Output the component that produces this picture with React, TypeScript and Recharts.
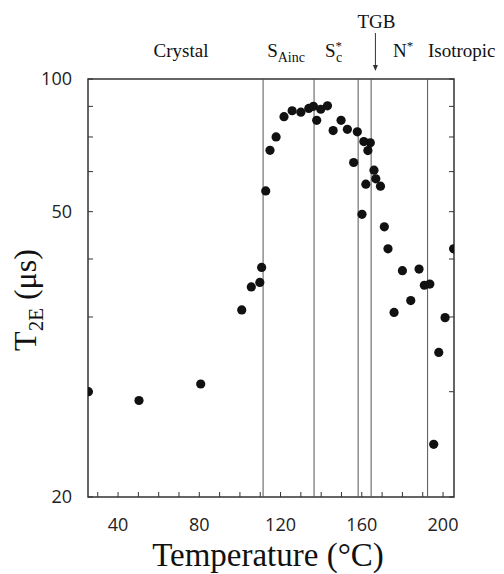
import { ScatterChart, Scatter, XAxis, YAxis, ReferenceLine, ReferenceDot, ReferenceArea } from 'recharts'

// temperature (°C) and T2E (μs)
const temps = [
  25.4, 50.3, 80.7, 100.9, 105.6, 109.8, 110.7, 112.7, 114.8, 117.8, 121.7, 125.7, 130.0, 133.9, 136.2,
  137.8, 139.8, 143.1, 145.9, 149.8, 152.9, 156.0, 157.8, 160.1, 161.0, 162.0, 163.0, 164.2, 166.0,
  166.9, 169.2, 171.1, 172.9, 175.9, 180.0, 184.1, 188.2, 190.8, 193.5, 195.4, 197.9, 201.0, 205.2,
]
const t2e = [
  30.0, 29.0, 30.9, 41.1, 44.9, 45.7, 48.4, 65.0, 76.0, 80.0, 86.5, 88.5, 88.0, 89.3, 90.0,
  85.3, 89.0, 90.2, 82.0, 85.3, 82.4, 72.5, 81.6, 59.4, 78.6, 66.7, 75.9, 78.2, 70.4,
  68.1, 66.2, 56.6, 52.0, 40.7, 47.8, 42.6, 48.1, 45.2, 45.4, 24.5, 34.9, 39.9, 52.0,
]
const points = temps.map((t, i) => ({ t, v: t2e[i] }))

// phase boundaries
const boundaries = [111.4, 136.5, 158.2, 164.6, 192.4]

const xDomain: [number, number] = [25.2, 205.4]
const yDomain: [number, number] = [20, 100]
const xTicks = [30, 40, 50, 60, 70, 80, 90, 100, 110, 120, 130, 140, 150, 160, 170, 180, 190, 200]
const xLabels = [40, 80, 120, 160, 200]
const yTicks = [20, 30, 40, 50, 60, 70, 80, 90, 100]
// the figure prints "50" at the 60 tick position
const yLabels: Record<number, string> = { 20: '20', 60: '50', 100: '100' }

const AXIS = '#333'
const SERIF = '"Liberation Serif", "Times New Roman", serif'
const SANS = '"Open Sans", "Noto Sans", sans-serif'

const Dot = (props: any) => {
  const { cx, cy } = props
  if (cx == null || cy == null) return null
  return <circle cx={cx} cy={cy} r={4.6} fill="#111" />
}

const phaseLabel = (kind: string) => (props: any) => {
  const { x, y } = props.viewBox
  const base = y - 22
  const common = { fontFamily: SERIF, fontSize: 19, fill: '#111' }
  if (kind === 'crystal')
    return <text x={x} y={base} textAnchor="middle" {...common}>Crystal</text>
  if (kind === 'sa')
    return (
      <text x={x} y={base} {...common}>
        S<tspan fontSize={14} dy={5}>Ainc</tspan>
      </text>
    )
  if (kind === 'sc')
    return (
      <g>
        <text x={x} y={base} {...common}>
          S<tspan fontSize={13} dy={-7}>*</tspan>
        </text>
        <text x={x + 11} y={base + 5} {...common} fontSize={14}>c</text>
      </g>
    )
  if (kind === 'tgb')
    return (
      <g>
        <text x={x} y={y - 51} textAnchor="middle" {...common}>TGB</text>
        <line x1={x - 1} x2={x - 1} y1={y - 46} y2={y - 12} stroke="#333" strokeWidth={1} />
        <polygon points={`${x - 3.5},${y - 14} ${x + 1.5},${y - 14} ${x - 1},${y - 8}`} fill="#333" />
      </g>
    )
  if (kind === 'n')
    return (
      <text x={x} y={base} {...common}>
        N<tspan fontSize={13} dy={-7}>*</tspan>
      </text>
    )
  return <text x={x} y={base} {...common}>Isotropic</text>
}

const phases = [
  { t: 71, kind: 'crystal' },
  { t: 113.4, kind: 'sa' },
  { t: 141.9, kind: 'sc' },
  { t: 167.2, kind: 'tgb' },
  { t: 175.4, kind: 'n' },
  { t: 192.6, kind: 'iso' },
]

const XTitle = (props: any) => {
  const { x, y, width } = props.viewBox
  return (
    <text x={x + width / 2 - 3} y={y + 69} textAnchor="middle" fontFamily={SERIF} fontSize={33} fill="#111">
      Temperature (°C)
    </text>
  )
}

const YTitle = () => {
  const cx = 28
  const cy = 292
  return (
    <text
      x={cx}
      y={cy}
      transform={`rotate(-90, ${cx}, ${cy})`}
      textAnchor="middle"
      fontFamily={SERIF}
      fontSize={32}
      fill="#111"
    >
      T<tspan fontSize={21} dy={7}>2E</tspan>
      <tspan dy={-7}> (μs)</tspan>
    </text>
  )
}

export default function App() {
  return (
    <ScatterChart width={496} height={566} margin={{ top: 61, right: 40, bottom: 37, left: 20 }}>
      <XAxis
        xAxisId="b"
        type="number"
        dataKey="t"
        domain={xDomain}
        allowDataOverflow
        ticks={xTicks}
        interval={0}
        height={40}
        stroke={AXIS}
        axisLine={false}
        tickSize={-5}
        tickMargin={26}
        tickFormatter={(v: number) => (xLabels.includes(v) ? String(v) : '')}
        tick={{ fontFamily: SANS, fontSize: 18, fill: '#222', stroke: 'none' }}
        label={<XTitle />}
      />
      <XAxis
        xAxisId="t"
        orientation="top"
        type="number"
        domain={xDomain}
        allowDataOverflow
        ticks={xTicks}
        interval={0}
        height={10}
        stroke={AXIS}
        axisLine={false}
        tickSize={-5}
        tickFormatter={() => ''}
      />
      <YAxis
        yAxisId="l"
        type="number"
        dataKey="v"
        scale="log"
        domain={yDomain}
        allowDataOverflow
        ticks={yTicks}
        interval={0}
        width={60}
        stroke={AXIS}
        axisLine={false}
        tickSize={-5}
        tickMargin={21}
        tickFormatter={(v: number) => yLabels[v] ?? ''}
        tick={{ fontFamily: SANS, fontSize: 18, fill: '#222', stroke: 'none' }}
        label={<YTitle />}
      />
      <YAxis
        yAxisId="r"
        orientation="right"
        type="number"
        scale="log"
        domain={yDomain}
        allowDataOverflow
        ticks={yTicks}
        interval={0}
        width={10}
        stroke={AXIS}
        axisLine={false}
        tickSize={-5}
        tickFormatter={() => ''}
      />
      {/* plot frame */}
      <ReferenceArea
        xAxisId="b"
        yAxisId="l"
        x1={xDomain[0]}
        x2={xDomain[1]}
        y1={yDomain[0]}
        y2={yDomain[1]}
        fill="none"
        fillOpacity={0}
        stroke={AXIS}
        strokeWidth={1.5}
        strokeOpacity={1}
      />
      {boundaries.map((b) => (
        <ReferenceLine key={b} xAxisId="b" yAxisId="l" x={b} stroke="#555" strokeWidth={1} />
      ))}
      {phases.map((p) => (
        <ReferenceDot
          key={p.kind}
          xAxisId="b"
          yAxisId="l"
          x={p.t}
          y={100}
          r={0}
          fill="none"
          stroke="none"
          ifOverflow="visible"
          label={phaseLabel(p.kind)}
        />
      ))}
      <Scatter xAxisId="b" yAxisId="l" data={points} shape={<Dot />} isAnimationActive={false} />
    </ScatterChart>
  )
}
